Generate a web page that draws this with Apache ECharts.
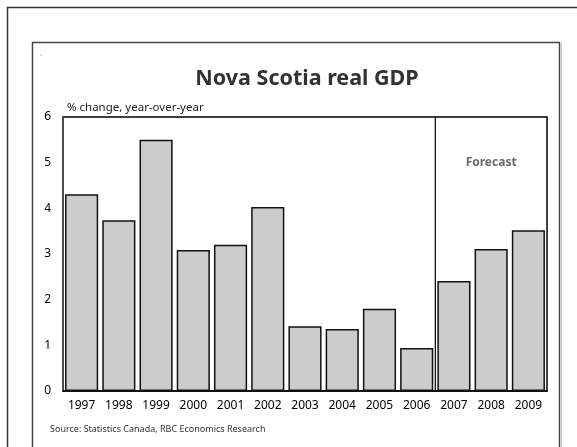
<!DOCTYPE html>
<html>
<head>
<meta charset="utf-8">
<script src="https://cdn.jsdelivr.net/npm/echarts@6/dist/echarts.min.js"></script>
<style>
  html, body { margin: 0; padding: 0; background: #ffffff; }
  #chart { width: 577px; height: 447px; }
</style>
</head>
<body>
<div id="chart"></div>
<script>
// Nova Scotia real GDP, % change year-over-year
const years = ['1997', '1998', '1999', '2000', '2001', '2002', '2003',
               '2004', '2005', '2006', '2007', '2008', '2009'];
const gdpGrowth = [4.31, 3.74, 5.50, 3.09, 3.20, 4.03, 1.42,
                   1.36, 1.80, 0.94, 2.41, 3.11, 3.52];
// first forecast year sits at this category boundary
const forecastStart = 10;
const yTicks = [0, 1, 2, 3, 4, 5, 6];

const FONT = '"Noto Sans", "DejaVu Sans", sans-serif';

const chart = echarts.init(document.getElementById('chart'), null, { renderer: 'canvas' });

chart.setOption({
  animation: false,
  backgroundColor: '#ffffff',
  textStyle: { fontFamily: FONT },
  title: {
    text: 'Nova Scotia real GDP',
    left: 302,
    textAlign: 'center',
    top: 63,
    textStyle: { fontFamily: FONT, fontSize: 21.5, fontWeight: 'bold', color: '#333333' }
  },
  graphic: [
    { type: 'rect', silent: true, z: -10,
      shape: { x: 7.5, y: 7.5, width: 620, height: 500 },
      style: { fill: null, stroke: '#333333', lineWidth: 1.5 } },
    { type: 'rect', silent: true, z: -10,
      shape: { x: 32.5, y: 42.5, width: 527, height: 500 },
      style: { fill: null, stroke: '#444444', lineWidth: 1.5 } },
    { type: 'line', silent: true, z: -10,
      shape: { x1: 561.5, y1: 43, x2: 561.5, y2: 447 },
      style: { stroke: '#cccccc', lineWidth: 1 } },
    { type: 'rect', silent: true, z: -10,
      shape: { x: 40.5, y: 54.5, width: 1, height: 1 },
      style: { fill: '#777777' } },
    { type: 'text', silent: true,
      style: { x: 50, y: 429, text: 'Source: Statistics Canada, RBC Economics Research',
               font: '9px ' + FONT, fill: '#333333', verticalAlign: 'middle' } }
  ],
  grid: {
    left: 63, right: 30, top: 117, bottom: 56,
    show: true, borderColor: '#000000', borderWidth: 1.5,
    containLabel: false
  },
  xAxis: [
    {
      type: 'category',
      data: years,
      boundaryGap: true,
      axisLine: { show: true, lineStyle: { color: '#000000', width: 1.5 } },
      axisTick: { show: false },
      axisLabel: { fontFamily: FONT, fontSize: 12, color: '#000000', margin: 9 }
    },
    {
      // continuous scale over the same categories, used for the forecast marker
      type: 'value', min: 0, max: years.length, show: false, position: 'bottom'
    }
  ],
  yAxis: {
    type: 'value',
    min: yTicks[0], max: yTicks[yTicks.length - 1], interval: 1,
    name: '% change, year-over-year',
    nameLocation: 'end',
    nameGap: 3,
    nameTextStyle: { fontFamily: FONT, fontSize: 11.5, color: '#222222',
                     align: 'left', verticalAlign: 'bottom', padding: [0, 0, 0, 4] },
    axisLine: { show: true, lineStyle: { color: '#555555', width: 1.5 } },
    axisTick: { show: false },
    splitLine: { show: false },
    axisLabel: { fontFamily: FONT, fontSize: 12, color: '#000000', margin: 12 }
  },
  series: [
    {
      type: 'bar',
      data: gdpGrowth,
      barCategoryGap: '11%',
      itemStyle: { color: '#cccccc', borderColor: '#111111', borderWidth: 1.5 },
      z: 2
    },
    {
      // divider between actual and forecast years
      type: 'line',
      xAxisIndex: 1,
      data: [[forecastStart, -0.03], [forecastStart, yTicks[yTicks.length - 1]]],
      symbol: 'none',
      lineStyle: { color: '#000000', width: 1.2 },
      z: 3
    },
    {
      type: 'scatter',
      xAxisIndex: 1,
      data: [[(forecastStart + years.length) / 2, 5]],
      symbolSize: 0,
      label: { show: true, position: 'inside', formatter: 'Forecast',
               fontFamily: FONT, fontSize: 12, fontWeight: 'bold', color: '#444444' }
    }
  ]
});
</script>
</body>
</html>
